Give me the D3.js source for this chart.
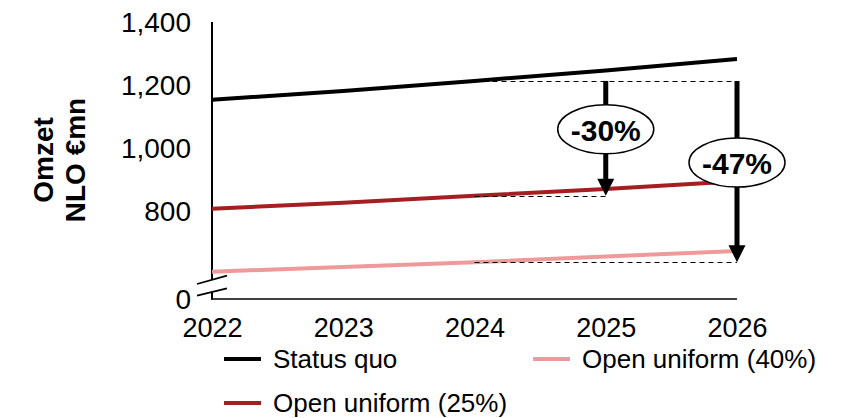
<!DOCTYPE html>
<html>
<head>
<meta charset="utf-8">
<script src="https://cdn.jsdelivr.net/npm/d3@7"></script>
<style>
  html, body { margin: 0; padding: 0; background: #fff; }
  svg { display: block; font-family: "Liberation Sans", Arial, sans-serif; }
</style>
</head>
<body>
<svg id="chart" width="841" height="418"></svg>
<script>
// ---- data ----
const years = [2022, 2023, 2024, 2025, 2026];
const statusQuo = [1156, 1184, 1216, 1249, 1286];
const openUniform25 = [810, 829, 851, 873, 897];
const openUniform40 = [610, 625, 640, 658, 676];
const yTickValues = [0, 800, 1000, 1200, 1400];
const seriesNames = ["Status quo", "Open uniform (25%)", "Open uniform (40%)"];
const seriesColors = ["#000000", "#A51E22", "#EE9A9A"];
const annotationLabels = ["-30%", "-47%"];
const annotationTargets = ["Open uniform (25%)", "Open uniform (40%)"];
const annotationRefYear = 2024;
const annotationArrowYears = [2025, 2026];
const yTitleLines = ["Omzet", "NLO €mn"];

const seriesValues = [statusQuo, openUniform25, openUniform40];
const series = seriesNames.map((name, i) => ({
  name, color: seriesColors[i],
  values: years.map((yr, j) => ({ year: yr, value: seriesValues[i][j] }))
}));

// ---- layout ----
const svg = d3.select("#chart");
const x = d3.scaleLinear().domain([2022, 2026]).range([212, 737]);
// broken axis: 0 is drawn at the bottom, values start around 520
const y = d3.scaleLinear().domain([0, 520, 1400]).range([300, 300, 23]);
const axisY = 299;

// y axis labels
const yAxis = d3.axisLeft(y).tickValues(yTickValues).tickSize(0).tickPadding(21)
  .tickFormat(d3.format(","));
const gy = svg.append("g").attr("transform", `translate(212,0)`).call(yAxis);
gy.select(".domain").remove();
gy.selectAll("text").attr("font-size", 28).attr("font-family", "Liberation Sans, Arial, sans-serif").attr("fill", "#000");

// x axis labels
const xAxis = d3.axisBottom(x).tickValues(years).tickSize(0).tickPadding(19).tickFormat(d3.format("d"));
const gx = svg.append("g").attr("transform", `translate(0,${axisY})`).call(xAxis);
gx.select(".domain").remove();
gx.selectAll("text").attr("font-size", 27).attr("font-family", "Liberation Sans, Arial, sans-serif").attr("fill", "#000");

// axis lines with break
svg.append("line").attr("x1", 212).attr("x2", 212).attr("y1", y(1400) - 1).attr("y2", 280)
  .attr("stroke", "#000").attr("stroke-width", 2);
svg.append("line").attr("x1", 212).attr("x2", 212).attr("y1", 292).attr("y2", axisY + 0.5)
  .attr("stroke", "#000").attr("stroke-width", 2);
svg.append("line").attr("x1", 211).attr("x2", x(2026)).attr("y1", axisY).attr("y2", axisY)
  .attr("stroke", "#000").attr("stroke-width", 1.5);
[[284, 275.7], [295.7, 288.3]].forEach(([ya, yb]) => {
  svg.append("line").attr("x1", 197).attr("y1", ya).attr("x2", 227).attr("y2", yb)
    .attr("stroke", "#000").attr("stroke-width", 1.8);
});

// y title
yTitleLines.forEach((t, i) => {
  svg.append("text")
    .attr("transform", `translate(${43 + i * 32},160) rotate(-90)`)
    .attr("text-anchor", "middle").attr("dominant-baseline", "central")
    .attr("font-size", 28).attr("font-weight", "bold").text(t);
});

// lines
const line = d3.line().x(d => x(d.year)).y(d => y(d.value));
svg.append("g").selectAll("path").data(series.slice().reverse()).join("path")
  .attr("d", d => line(d.values)).attr("fill", "none")
  .attr("stroke", d => d.color).attr("stroke-width", 4);

// annotations
const valAt = (name, yr) => series.find(s => s.name === name).values.find(v => v.year === yr).value;
const refTop = valAt("Status quo", annotationRefYear);
const ann = svg.append("g");
const maxArrowYear = d3.max(annotationArrowYears);
const snap = v => Math.round(v) + 0.5;
ann.append("line").attr("x1", x(annotationRefYear)).attr("x2", x(maxArrowYear))
  .attr("y1", snap(y(refTop))).attr("y2", snap(y(refTop)))
  .attr("stroke", "#000").attr("stroke-width", 1).attr("stroke-dasharray", "5,4");

annotationLabels.forEach((lab, i) => {
  const target = valAt(annotationTargets[i], annotationRefYear);
  const ax = x(annotationArrowYears[i]);
  const y0 = y(refTop), y1 = y(target);
  ann.append("line").attr("x1", x(annotationRefYear)).attr("x2", ax)
    .attr("y1", snap(y1)).attr("y2", snap(y1))
    .attr("stroke", "#000").attr("stroke-width", 1).attr("stroke-dasharray", "5,4");
  // shaft
  ann.append("line").attr("x1", ax).attr("x2", ax).attr("y1", y0).attr("y2", y1 - 15)
    .attr("stroke", "#000").attr("stroke-width", 5);
  // head
  ann.append("path").attr("d", `M${ax - 8.5},${y1 - 17} L${ax + 8.5},${y1 - 17} L${ax},${y1} Z`)
    .attr("fill", "#000");
  const cy = (y0 + y1) / 2 - 9;
  ann.append("ellipse").attr("cx", ax).attr("cy", cy).attr("rx", 48).attr("ry", 24.5)
    .attr("fill", "#fff").attr("stroke", "#000").attr("stroke-width", 1.5);
  ann.append("text").attr("x", ax).attr("y", cy + 1).attr("text-anchor", "middle")
    .attr("dominant-baseline", "central").attr("font-size", 30).attr("font-weight", "bold")
    .text(lab);
});

// legend (column-major, 2 rows)
const legendCols = [224, 533];
const legendRows = [359, 403];
series.forEach((s, i) => {
  const col = Math.floor(i / 2), row = i % 2;
  const lx = legendCols[col], ly = legendRows[row];
  svg.append("line").attr("x1", lx).attr("x2", lx + 37).attr("y1", ly).attr("y2", ly)
    .attr("stroke", s.color).attr("stroke-width", 4);
  svg.append("text").attr("x", lx + 49).attr("y", ly).attr("dominant-baseline", "central")
    .attr("font-size", 26).text(s.name);
});
</script>
</body>
</html>
